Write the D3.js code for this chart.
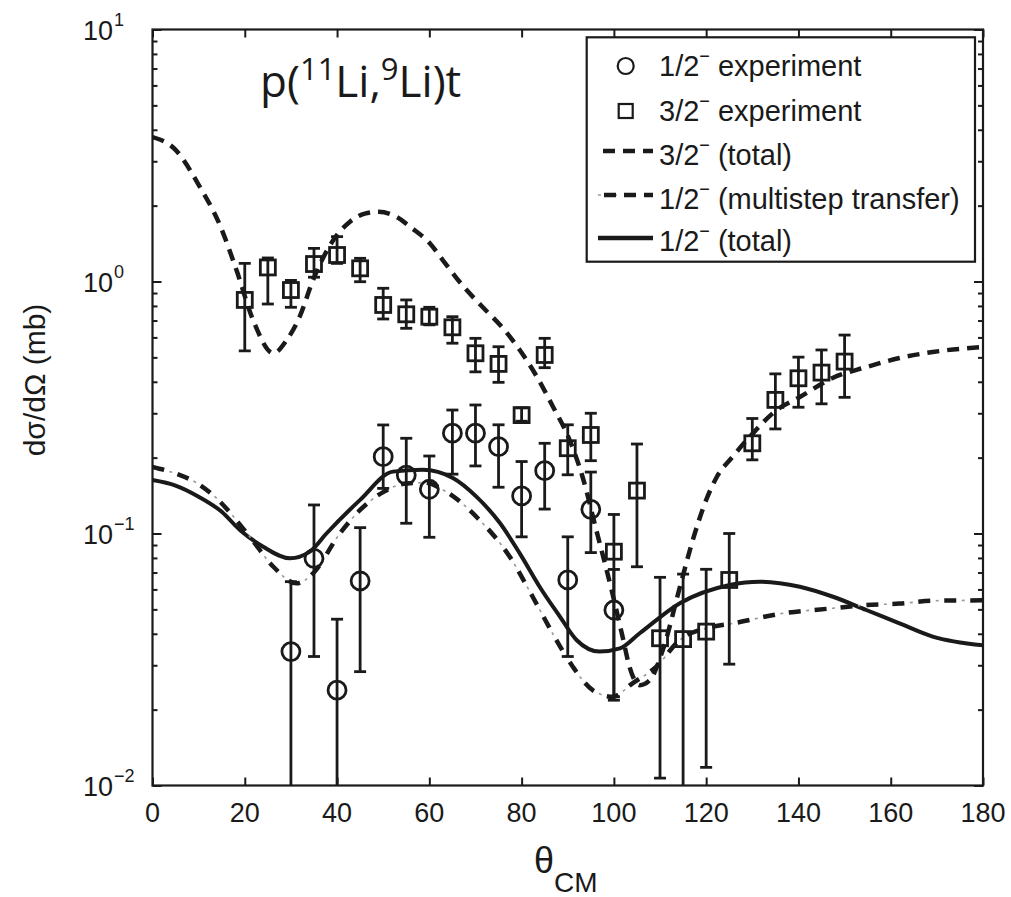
<!DOCTYPE html>
<html><head><meta charset="utf-8">
<script src="https://cdn.jsdelivr.net/npm/d3@7"></script>
<style>
body{margin:0;background:#fff}
svg{display:block}
text{font-family:"Liberation Sans",Arial,Helvetica,sans-serif;fill:#1a1a1a}
</style>
</head><body>
<svg id="c" width="1011" height="897"></svg>
<script>
// ---------------- data ----------------
const xTickValues = [0,20,40,60,80,100,120,140,160,180];
const yTickExponents = [-2,-1,0,1];

// 3/2- experiment (squares)
const sqTheta = [20,25,30,35,40,45,50,55,60,65,70,75,80,85,90,95,100,105,110,115,120,125,130,135,140,145,150];
const sqVal = [0.845,1.137,0.925,1.173,1.274,1.128,0.807,0.741,0.725,0.658,0.519,0.471,0.295,0.511,0.218,0.246,0.0847,0.148,0.0384,0.0381,0.0408,0.0654,0.228,0.339,0.413,0.435,0.481];
const sqHi  = [1.18,1.24,1.01,1.354,1.506,1.236,0.94,0.845,0.79,0.725,0.595,0.551,0.315,0.595,0.27,0.30,0.119,0.2265,0.067,0.069,0.0721,0.1,0.286,0.43,0.501,0.535,0.613];
const sqLo  = [0.531,0.814,0.79,1.04,1.18,0.998,0.71,0.652,0.673,0.569,0.438,0.398,0.279,0.455,0.171,0.1945,0.0218,0.0738,0.0107,0.005,0.0118,0.0303,0.196,0.26,0.317,0.327,0.347];

// 1/2- experiment (circles)
const ciTheta = [30,35,40,45,50,55,60,65,70,75,80,85,90,95,100];
const ciVal = [0.034,0.0797,0.0239,0.0648,0.2017,0.1706,0.1498,0.25,0.25,0.221,0.141,0.1775,0.0654,0.1247,0.0497];
const ciHi  = [0.0644,0.1298,0.0457,0.1055,0.2696,0.2387,0.203,0.309,0.3236,0.27,0.193,0.228,0.097,0.1753,0.072];
const ciLo  = [0.005,0.0325,0.005,0.0283,0.151,0.1098,0.0966,0.172,0.1854,0.1526,0.097,0.125,0.0325,0.084,0.0225];

// 3/2- (total) dashed curve
const t32Theta = [0,5,10,14.6,18.2,21.8,26.2,29.1,31.9,34.8,39.2,42.8,46,49,53,56,60.1,62.9,67.3,71.6,75.9,79.6,83.3,86.8,90.4,93.2,96.2,99.5,101.9,103.4,105.6,107.8,110.6,114.3,117.1,120,122.3,125.7,129.4,135.3,140.3,147.4,154.8,161.9,169.1,180];
const t32Val = [3.74,3.33,2.42,1.675,1.11,0.703,0.519,0.586,0.725,1.014,1.461,1.727,1.86,1.89,1.8,1.64,1.418,1.217,0.96,0.79,0.654,0.535,0.419,0.3185,0.235,0.168,0.103,0.0597,0.0388,0.0295,0.025,0.0262,0.0345,0.0613,0.0942,0.1358,0.1676,0.2012,0.2415,0.309,0.348,0.414,0.458,0.497,0.525,0.55];

// 1/2- (multistep transfer) dash-dot curve
const msTheta = [0,5,10,13.5,21.1,26.2,31.2,34.8,40.6,45,50,55,59,63.5,70.5,77.4,82.4,86.7,91.1,95.4,99.7,104.1,109.2,114.3,121.5,125.8,136.6,147.5,154.7,161.9,169.1,180];
const msVal = [0.1836,0.173,0.157,0.14,0.097,0.0738,0.0634,0.0695,0.1,0.124,0.146,0.158,0.159,0.147,0.115,0.081,0.0561,0.0402,0.0296,0.0239,0.0225,0.0255,0.0296,0.0378,0.0427,0.044,0.0482,0.0505,0.052,0.0527,0.0541,0.0543];

// 1/2- (total) solid curve
const s12Theta = [0,5,10,15,19,24,29.8,34.1,37.7,45,52.1,58.6,65.1,70.2,75.3,79.6,83.9,88.3,91.9,96.9,101.3,105.6,114.3,125.1,131.6,140.3,147.5,154.7,161.9,169.1,180];
const s12Val = [0.163,0.155,0.14,0.122,0.103,0.0886,0.0797,0.0847,0.1,0.136,0.176,0.179,0.166,0.14,0.11,0.0834,0.0615,0.0468,0.0378,0.034,0.035,0.0402,0.0529,0.0625,0.0644,0.0615,0.0561,0.0497,0.044,0.039,0.036];

const legendLabels = ["experiment","experiment","(total)","(multistep transfer)","(total)"];
const legendFractions = ["1/2","3/2","3/2","1/2","1/2"];

// ---------------- drawing ----------------
const svg = d3.select('#c');
const ink = '#1a1a1a';
const x = d3.scaleLinear().domain([0,180]).range([152.5,983]);
const y = d3.scaleLog().domain([0.01,10]).range([785.5,29.5]);
const X0 = x.range()[0], X1 = x.range()[1], Y0 = y.range()[0], Y1 = y.range()[1];

svg.append('defs').append('clipPath').attr('id','clip')
  .append('rect').attr('x',X0).attr('y',Y1).attr('width',X1-X0).attr('height',Y0-Y1);

const plot = svg.append('g').attr('clip-path','url(#clip)');

const line = d3.line().x(d=>x(d[0])).y(d=>y(d[1])).curve(d3.curveMonotoneX);
const zip = (a,b)=>a.map((v,i)=>[v,b[i]]);

// solid
plot.append('path').attr('d',line(zip(s12Theta,s12Val)))
  .attr('fill','none').attr('stroke',ink).attr('stroke-width',4);
// dash-dot
const msD = line(zip(msTheta,msVal));
plot.append('path').attr('d',msD).attr('fill','none').attr('stroke',ink)
  .attr('stroke-width',4.5).attr('stroke-dasharray','12 14');
plot.append('path').attr('d',msD).attr('fill','none').attr('stroke','#9a9a9a')
  .attr('stroke-width',1.6).attr('stroke-dasharray','0 17.5 3 5.5');
// dashed
plot.append('path').attr('d',line(zip(t32Theta,t32Val)))
  .attr('fill','none').attr('stroke',ink).attr('stroke-width',4.5).attr('stroke-dasharray','12 8');

// error bars + markers
function errBars(th, v, hi, lo){
  const g = plot.append('g').attr('stroke',ink).attr('stroke-width',2.8).attr('fill','none');
  th.forEach((t,i)=>{
    const cx = x(t);
    g.append('line').attr('x1',cx).attr('x2',cx).attr('y1',y(hi[i])).attr('y2',y(lo[i]));
    g.append('line').attr('x1',cx-6).attr('x2',cx+6).attr('y1',y(hi[i])).attr('y2',y(hi[i]));
    g.append('line').attr('x1',cx-6).attr('x2',cx+6).attr('y1',y(lo[i])).attr('y2',y(lo[i]));
  });
}
errBars(sqTheta,sqVal,sqHi,sqLo);
errBars(ciTheta,ciVal,ciHi,ciLo);

plot.append('g').selectAll('rect').data(zip(sqTheta,sqVal)).join('rect')
  .attr('x',d=>x(d[0])-7.5).attr('y',d=>y(d[1])-7.5).attr('width',15).attr('height',15)
  .attr('fill','none').attr('stroke',ink).attr('stroke-width',2.8);
plot.append('g').selectAll('circle').data(zip(ciTheta,ciVal)).join('circle')
  .attr('cx',d=>x(d[0])).attr('cy',d=>y(d[1])).attr('r',9)
  .attr('fill','none').attr('stroke',ink).attr('stroke-width',2.8);

// axes frame
svg.append('rect').attr('x',X0).attr('y',Y1).attr('width',X1-X0).attr('height',Y0-Y1)
  .attr('fill','none').attr('stroke',ink).attr('stroke-width',2.2);

// x ticks (inward, bottom & top)
const axB = d3.axisBottom(x).tickValues(xTickValues).tickSize(-8).tickFormat('');
const axT = d3.axisTop(x).tickValues(xTickValues).tickSize(-8).tickFormat('');
[svg.append('g').attr('transform',`translate(0,${Y0})`).call(axB),
 svg.append('g').attr('transform',`translate(0,${Y1})`).call(axT)].forEach(g=>{
  g.select('.domain').remove();
  g.selectAll('line').attr('stroke',ink).attr('stroke-width',2);
});
// x tick labels
svg.append('g').selectAll('text').data(xTickValues).join('text')
  .attr('x',d=>x(d)).attr('y',822).attr('text-anchor','middle')
  .attr('font-size',27).text(d=>d);

// y ticks: major and minor, left & right
const minorVals = [];
for(let e=-2;e<1;e++) for(let m=2;m<=9;m++) minorVals.push(m*Math.pow(10,e));
const majorVals = yTickExponents.map(e=>Math.pow(10,e));
[[d3.axisLeft, X0],[d3.axisRight, X1]].forEach(([ax,pos])=>{
  const gM = svg.append('g').attr('transform',`translate(${pos},0)`)
    .call(ax(y).tickValues(majorVals).tickSize(-9).tickFormat(''));
  const gm = svg.append('g').attr('transform',`translate(${pos},0)`)
    .call(ax(y).tickValues(minorVals).tickSize(-5).tickFormat(''));
  [gM,gm].forEach(g=>{g.select('.domain').remove(); g.selectAll('line').attr('stroke',ink).attr('stroke-width',2);});
});
// y tick labels 10^n
yTickExponents.forEach(d=>{
  const yy = y(Math.pow(10,d));
  svg.append('text').attr('x',113).attr('y',yy+10).attr('text-anchor','end')
    .attr('font-size',27).text('10');
  svg.append('text').attr('x',114).attr('y',yy-4).attr('font-size',18)
    .text(d<0?('\u2212'+Math.abs(d)):d);
});

// axis labels
svg.append('text').attr('transform','translate(45,380) rotate(-90)').attr('text-anchor','middle')
  .attr('font-size',30).text('d\u03C3/d\u03A9 (mb)');
const xl = svg.append('text').attr('x',534).attr('y',873).attr('font-size',36);
xl.append('tspan').text('\u03B8');
xl.append('tspan').attr('font-size',28).attr('dy',19).text('CM');

// title
const title = svg.append('text').attr('x',260).attr('y',97)
  .style('font-family','"Open Sans", Lato, sans-serif').attr('font-size',44);
title.append('tspan').text('p(');
title.append('tspan').attr('font-size',31).attr('dy',-17).text('11');
title.append('tspan').attr('dy',17).text('Li,');
title.append('tspan').attr('font-size',31).attr('dy',-17).text('9');
title.append('tspan').attr('dy',17).text('Li)t');

// legend
const L = svg.append('g');
L.append('rect').attr('x',586.7).attr('y',37.3).attr('width',388.3).attr('height',224.4)
  .attr('fill','#fff').attr('stroke',ink).attr('stroke-width',2.2);
const baselines = [76,121,165,209,251];
legendFractions.forEach((f,i)=>{
  const t = L.append('text').attr('x',659).attr('y',baselines[i]).attr('font-size',29);
  t.append('tspan').text(f);
  t.append('tspan').attr('font-size',18).attr('dy',-14).text('\u2212');
  t.append('tspan').attr('dy',14).text(' '+legendLabels[i]);
});
const lx0 = 598, lx1 = 653, mx = 625.7;
L.append('circle').attr('cx',mx).attr('cy',baselines[0]-10).attr('r',8)
  .attr('fill','none').attr('stroke',ink).attr('stroke-width',2.2);
L.append('rect').attr('x',mx-7).attr('y',baselines[1]-17).attr('width',14).attr('height',14)
  .attr('fill','none').attr('stroke',ink).attr('stroke-width',2.2);
L.append('line').attr('x1',lx0).attr('x2',lx1).attr('y1',baselines[2]-14).attr('y2',baselines[2]-14)
  .attr('stroke',ink).attr('stroke-width',4.5).attr('stroke-dasharray','12 8').attr('stroke-dashoffset',-5);
const ly3 = baselines[3]-14;
L.append('line').attr('x1',lx0).attr('x2',lx1).attr('y1',ly3).attr('y2',ly3)
  .attr('stroke','#9a9a9a').attr('stroke-width',1.6).attr('stroke-dasharray','3 13');
L.append('line').attr('x1',lx0+6).attr('x2',lx1).attr('y1',ly3).attr('y2',ly3)
  .attr('stroke',ink).attr('stroke-width',4.5).attr('stroke-dasharray','12 8');
L.append('line').attr('x1',lx0).attr('x2',lx1).attr('y1',baselines[4]-13).attr('y2',baselines[4]-13)
  .attr('stroke',ink).attr('stroke-width',4.5);
</script>
</body></html>
